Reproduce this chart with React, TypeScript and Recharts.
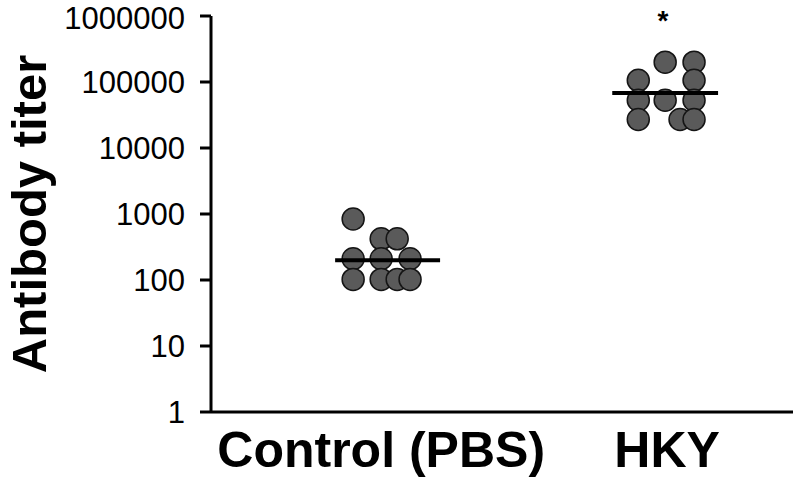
import React from 'react';
import { ComposedChart, Scatter, XAxis, YAxis, Label, ReferenceDot } from 'recharts';

// groups and tick labels
const groups = ['Control (PBS)', 'HKY'];
const yTicks = [1, 10, 100, 1000, 10000, 100000, 1000000];

// individual titers (x = group position + jitter)
const controlX = [0.902, 1.0, 1.056, 0.902, 1.0, 1.101, 0.902, 1.0, 1.056, 1.101];
const controlY = [840, 420, 420, 210, 210, 210, 102, 102, 102, 102];
const hkyX = [1.993, 2.094, 1.899, 2.094, 1.899, 1.993, 2.094, 1.899, 2.045, 2.094];
const hkyY = [200000, 200000, 106000, 106000, 53000, 53000, 53000, 27000, 27000, 27000];

// group medians (bar drawn across the dots)
const medians = [200, 68000];
const medianSpan = [
  [0.839, 1.206],
  [1.808, 2.178],
];

const FONT = '"Liberation Sans", Arial, sans-serif';

const points = [
  ...controlX.map((x, i) => ({ x, y: controlY[i] })),
  ...hkyX.map((x, i) => ({ x, y: hkyY[i] })),
];

const medianLines = medians.map((m, i) => [
  { x: medianSpan[i][0], y: m },
  { x: medianSpan[i][1], y: m },
]);

const Dot = (props: any) => (
  <circle cx={props.cx} cy={props.cy} r={11} fill="#5a5a5a" stroke="#151515" strokeWidth={1.5} />
);

export default function App() {
  return (
    <div style={{ position: 'absolute', left: 0, top: 0, width: 800, height: 488, background: '#fff' }}>
      <ComposedChart width={800} height={488} margin={{ top: 16, right: 7, bottom: 0, left: 0 }}>
        <XAxis
          type="number"
          dataKey="x"
          domain={[0.405, 2.44]}
          ticks={[1, 2]}
          tickFormatter={(v) => groups[Math.round(v) - 1]}
          allowDataOverflow
          height={76}
          axisLine={{ stroke: '#000', strokeWidth: 3 }}
          tickLine={false}
          tickSize={0}
          tickMargin={19}
          tick={{ fill: '#000', fontSize: 50, fontWeight: 'bold', fontFamily: FONT }}
        />
        <YAxis
          type="number"
          dataKey="y"
          scale="log"
          domain={[1, 1000000]}
          ticks={yTicks}
          allowDataOverflow
          width={211}
          axisLine={{ stroke: '#000', strokeWidth: 3 }}
          tickLine={{ stroke: '#000', strokeWidth: 3 }}
          tickSize={11}
          tickMargin={15}
          tick={{ fill: '#000', fontSize: 31, fontFamily: FONT }}
        >
          <Label
            value="Antibody titer"
            angle={-90}
            position="center"
            dx={-77}
            style={{ fill: '#000', fontSize: 49, fontWeight: 'bold', fontFamily: FONT }}
          />
        </YAxis>
        <Scatter data={points} shape={<Dot />} isAnimationActive={false} />
        {medianLines.map((seg, i) => (
          <Scatter
            key={i}
            data={seg}
            line={{ stroke: '#000', strokeWidth: 4 }}
            shape={() => null}
            isAnimationActive={false}
          />
        ))}
        <ReferenceDot
          x={1.985}
          y={1000000}
          r={0}
          ifOverflow="visible"
          label={{ value: '*', position: 'center', dy: 4, fill: '#000', fontSize: 28, fontWeight: 'bold', fontFamily: FONT }}
        />
      </ComposedChart>
    </div>
  );
}
